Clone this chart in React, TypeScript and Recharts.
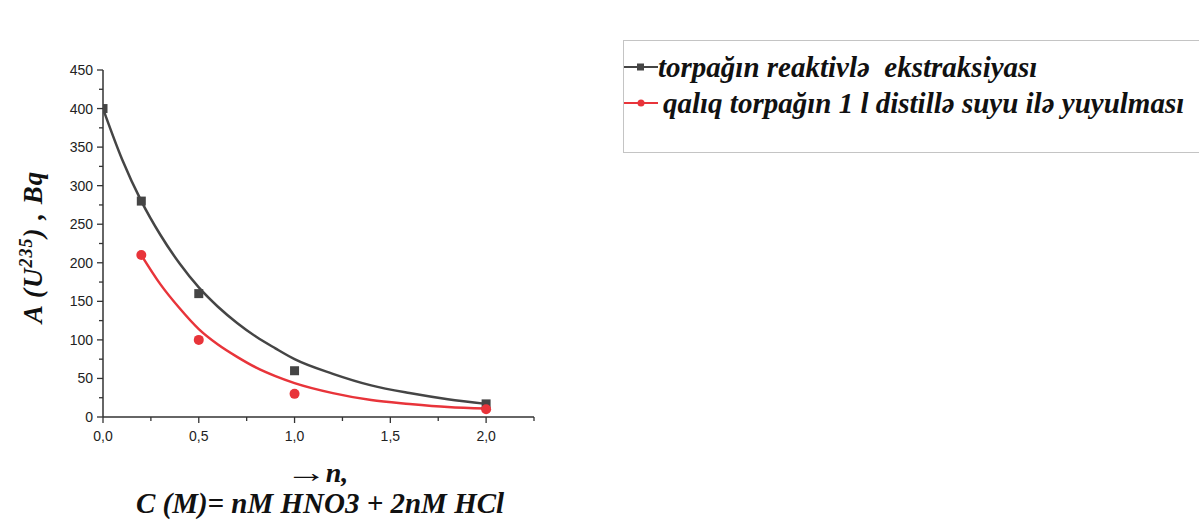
import { ComposedChart, Line, Scatter, XAxis, YAxis } from 'recharts';

// series names (legend)
const seriesNames = ['torpağın reaktivlə  ekstraksiyası', 'qalıq torpağın 1 l distillə suyu ilə yuyulması'];

// measured points
const extractionN = [0, 0.2, 0.5, 1, 2];
const extractionA = [400, 280, 160, 60, 17];
const washN = [0.2, 0.5, 1, 2];
const washA = [210, 100, 30, 10];

// fitted curves
const extractionFitN = [0, 0.1, 0.2, 0.3, 0.4, 0.5, 0.6, 0.7, 0.8, 0.9, 1.0, 1.2, 1.4, 1.6, 1.8, 2.0];
const extractionFitA = [400, 334, 280, 236, 199, 168, 143, 122, 104, 89, 75, 56, 41, 31, 23, 17];
const washFitN = [0.2, 0.3, 0.4, 0.5, 0.6, 0.7, 0.8, 0.9, 1.0, 1.2, 1.4, 1.6, 1.8, 2.0];
const washFitA = [210, 172, 141, 114, 94, 78, 64, 53, 44, 31, 22, 17, 13, 11];

// axis ticks
const xTicks = [0, 0.25, 0.5, 0.75, 1, 1.25, 1.5, 1.75, 2, 2.25];
const xLabelTicks = [0, 0.5, 1, 1.5, 2];
const yTicks = [0, 25, 50, 75, 100, 125, 150, 175, 200, 225, 250, 275, 300, 325, 350, 375, 400, 425, 450];
const yLabelTicks = [0, 50, 100, 150, 200, 250, 300, 350, 400, 450];

const toPoints = (xs: number[], ys: number[]) => xs.map((x, i) => ({ x, y: ys[i] }));

const AXIS = '#333';
const GRAY = '#454545';
const RED = '#e8343a';
const TICK_FONT = '"Liberation Sans", Arial, sans-serif';
const TITLE_FONT = '"Liberation Serif", "Times New Roman", serif';

const XTick = (props: any) => {
  const { x, y, payload } = props;
  const major = xLabelTicks.includes(payload.value);
  return (
    <g>
      <line x1={x} x2={x} y1={y} y2={y + (major ? 6 : 4)} stroke={AXIS} strokeWidth={1.3} />
      {major && (
        <text x={x} y={y + 24} textAnchor="middle" fontSize={14} fill="#222" fontFamily={TICK_FONT}>
          {payload.value.toFixed(1).replace('.', ',')}
        </text>
      )}
    </g>
  );
};

const YTick = (props: any) => {
  const { x, y, payload } = props;
  const major = yLabelTicks.includes(payload.value);
  return (
    <g>
      <line x1={x} x2={x - (major ? 6 : 4)} y1={y} y2={y} stroke={AXIS} strokeWidth={1.3} />
      {major && (
        <text x={x - 10} y={y + 5} textAnchor="end" fontSize={14} fill="#222" fontFamily={TICK_FONT}>
          {payload.value}
        </text>
      )}
    </g>
  );
};

const Square = (props: any) => (
  <rect x={props.cx - 4.5} y={props.cy - 4.5} width={9} height={9} fill={GRAY} />
);

const Dot = (props: any) => <circle cx={props.cx} cy={props.cy} r={5} fill={RED} />;

const LegendBox = () => (
  <div
    style={{
      position: 'absolute',
      left: 623,
      top: 40,
      width: 600,
      height: 113,
      border: '1px solid #c4c4c4',
      fontFamily: TITLE_FONT,
      fontWeight: 'bold',
      fontStyle: 'italic',
      fontSize: 29,
      color: '#111',
      whiteSpace: 'pre',
      boxSizing: 'border-box',
      paddingTop: 8,
    }}
  >
    {seriesNames.map((name, i) => (
      <div key={name} style={{ display: 'flex', alignItems: 'center', height: 36 }}>
        <svg width={34} height={12} style={{ flex: 'none' }}>
          <line x1={0} x2={34} y1={6} y2={6} stroke={i === 0 ? GRAY : RED} strokeWidth={2} />
          {i === 0 ? <rect x={13} y={2.5} width={7} height={7} fill={GRAY} /> : <circle cx={17} cy={6} r={3.5} fill={RED} />}
        </svg>
        <span style={{ marginLeft: i === 0 ? 0 : 5 }}>{name}</span>
      </div>
    ))}
  </div>
);

export default function App() {
  return (
    <div style={{ position: 'fixed', left: 0, top: 0, width: 1199, height: 520, background: '#fff', overflow: 'hidden' }}>
      <ComposedChart width={1199} height={520} margin={{ top: 70, left: 63, right: 665, bottom: 63 }}>
        <XAxis
          type="number"
          dataKey="x"
          domain={[0, 2.25]}
          ticks={xTicks}
          interval={0}
          height={40}
          tickSize={0}
          tickMargin={0}
          tickLine={false}
          tick={<XTick />}
          axisLine={{ stroke: AXIS, strokeWidth: 1.5 }}
          allowDataOverflow
        />
        <YAxis
          type="number"
          dataKey="y"
          domain={[0, 450]}
          ticks={yTicks}
          interval={0}
          width={40}
          tickSize={0}
          tickMargin={0}
          tickLine={false}
          tick={<YTick />}
          axisLine={{ stroke: AXIS, strokeWidth: 1.5 }}
          allowDataOverflow
        />
        <Line
          data={toPoints(extractionFitN, extractionFitA)}
          dataKey="y"
          type="monotone"
          stroke={GRAY}
          strokeWidth={2.5}
          dot={false}
          isAnimationActive={false}
        />
        <Line
          data={toPoints(washFitN, washFitA)}
          dataKey="y"
          type="monotone"
          stroke={RED}
          strokeWidth={2.5}
          dot={false}
          isAnimationActive={false}
        />
        <Scatter data={toPoints(extractionN, extractionA)} dataKey="y" shape={<Square />} isAnimationActive={false} />
        <Scatter data={toPoints(washN, washA)} dataKey="y" shape={<Dot />} isAnimationActive={false} />
      </ComposedChart>
      <LegendBox />
      {/* axis titles */}
      <div
        style={{
          position: 'absolute',
          left: 32,
          top: 247,
          transform: 'translate(-50%, -50%) rotate(-90deg)',
          fontFamily: TITLE_FONT,
          fontWeight: 'bold',
          fontStyle: 'italic',
          fontSize: 27,
          letterSpacing: 1,
          whiteSpace: 'pre',
          color: '#111',
        }}
      >
        A (U<sup style={{ fontSize: 18 }}>235</sup>) , Bq
      </div>
      <div
        style={{
          position: 'absolute',
          left: 320,
          top: 457,
          transform: 'translateX(-50%)',
          fontFamily: TITLE_FONT,
          fontWeight: 'bold',
          fontStyle: 'italic',
          fontSize: 29,
          whiteSpace: 'nowrap',
          color: '#111',
          lineHeight: '31px',
          textAlign: 'center',
        }}
      >
        <div style={{ fontSize: 28 }}>
          <span style={{ display: 'inline-block', transform: 'scaleX(1.5)', marginRight: 6 }}>→</span>n,
        </div>
        <div>C (M)= nM HNO3 + 2nM HCl</div>
      </div>
    </div>
  );
}
